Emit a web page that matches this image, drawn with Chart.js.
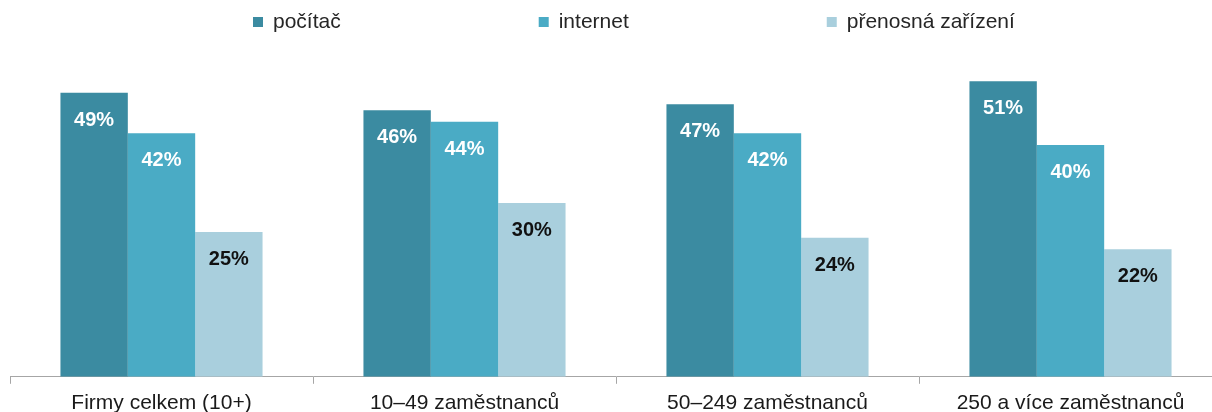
<!DOCTYPE html>
<html>
<head>
<meta charset="utf-8">
<script src="https://cdn.jsdelivr.net/npm/chart.js@4"></script>
<style>
  html, body { margin: 0; padding: 0; background: #fff; overflow: hidden; }
  #wrap { position: absolute; left: 0; top: 0; width: 1232px; height: 423px; }
</style>
</head>
<body>
<div id="wrap"><canvas id="c"></canvas></div>
<script>
const categories = ["Firmy celkem (10+)", "10–49 zaměstnanců", "50–249 zaměstnanců", "250 a více zaměstnanců"];
const seriesNames = ["počítač", "internet", "přenosná zařízení"];
const pocitac = [49, 46, 47, 51];
const internet = [42, 44, 42, 40];
const prenosna = [25, 30, 24, 22];
const seriesColors = ["#3b8ba1", "#4aabc5", "#a9cfdd"];
const labelColors = ["#ffffff", "#ffffff", "#111111"];

const FONT = "'Liberation Sans', Arial, sans-serif";

const legendPlugin = {
  id: 'customLegend',
  afterDraw(chart) {
    const ctx = chart.ctx;
    ctx.save();
    ctx.font = "21px " + FONT;
    ctx.textBaseline = 'alphabetic';
    let x = chart.chartArea.left + 243;
    chart.data.datasets.forEach((ds) => {
      ctx.fillStyle = ds.backgroundColor;
      ctx.fillRect(x, 17, 10, 10);
      ctx.fillStyle = '#262626';
      ctx.fillText(ds.label, x + 20, 28);
      x += 20 + ctx.measureText(ds.label).width + 198;
    });
    ctx.restore();
  }
};

const valueLabelPlugin = {
  id: 'valueLabels',
  afterDatasetsDraw(chart) {
    const ctx = chart.ctx;
    ctx.save();
    ctx.font = "bold 20px " + FONT;
    ctx.textAlign = 'center';
    ctx.textBaseline = 'alphabetic';
    chart.data.datasets.forEach((ds, di) => {
      const meta = chart.getDatasetMeta(di);
      ctx.fillStyle = labelColors[di];
      meta.data.forEach((el, i) => {
        ctx.fillText(ds.data[i] + '%', el.x, el.y + 33);
      });
    });
    ctx.restore();
  }
};

new Chart(document.getElementById('c'), {
  type: 'bar',
  data: {
    labels: categories,
    datasets: [
      { label: seriesNames[0], data: pocitac, backgroundColor: seriesColors[0] },
      { label: seriesNames[1], data: internet, backgroundColor: seriesColors[1] },
      { label: seriesNames[2], data: prenosna, backgroundColor: seriesColors[2] }
    ]
  },
  options: {
    responsive: true,
    maintainAspectRatio: false,
    animation: false,
    layout: { padding: { left: 10, right: 10, top: 29, bottom: 0 } },
    datasets: { bar: { categoryPercentage: 0.667, barPercentage: 1.0, borderWidth: 0 } },
    plugins: {
      legend: { display: false },
      tooltip: { enabled: false }
    },
    scales: {
      x: {
        offset: true,
        grid: { display: true, drawOnChartArea: false, drawTicks: true, tickLength: 7, color: '#a6a6a6', offset: true },
        border: { display: true, color: '#a6a6a6', width: 1 },
        ticks: { color: '#1a1a1a', font: { family: FONT, size: 21 }, padding: 7, maxRotation: 0, autoSkip: false }
      },
      y: {
        display: false,
        min: 0,
        max: 60
      }
    }
  },
  plugins: [legendPlugin, valueLabelPlugin]
});
</script>
</body>
</html>
